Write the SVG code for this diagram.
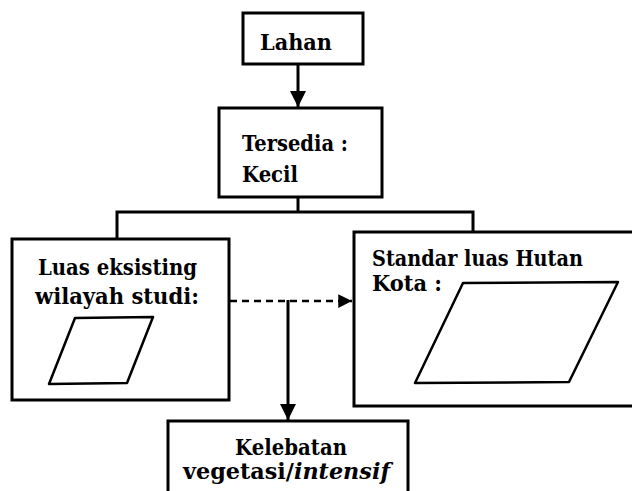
<svg xmlns="http://www.w3.org/2000/svg" width="632" height="491" viewBox="0 0 632 491">
<style>
.box{fill:#fff;stroke:#000;stroke-width:3}
.para{fill:#fff;stroke:#000;stroke-width:2.5;stroke-linejoin:round}
.t{font-family:'DejaVu Serif','Liberation Serif',serif;font-weight:bold;font-size:23px;fill:#000}
.ln{fill:none;stroke:#000;stroke-width:3}
.dash{fill:none;stroke:#000;stroke-width:2.5;stroke-dasharray:7,5}
</style>
<defs>
<marker id="ah" viewBox="0 0 10 10" refX="10" refY="5" markerWidth="5.5" markerHeight="5.5" orient="auto" markerUnits="strokeWidth">
<path d="M0,0 L10,5 L0,10 z" fill="#000"/>
</marker>
<marker id="ah2" viewBox="0 0 10 10" refX="10" refY="5" markerWidth="5.5" markerHeight="5.5" orient="auto" markerUnits="strokeWidth">
<path d="M0,0 L10,5 L0,10 z" fill="#000"/>
</marker>
</defs>
<g id="connectors">
<line class="ln" x1="298" y1="64" x2="298" y2="107" marker-end="url(#ah)"/>
<polyline class="ln" points="298,197 298,212"/>
<polyline class="ln" points="117,239 117,212 473,212 473,232"/>
<line class="dash" x1="230" y1="301" x2="352" y2="301" marker-end="url(#ah2)"/>
<line class="ln" x1="288" y1="300" x2="288" y2="420" marker-end="url(#ah)"/>
</g>
<g id="lahan">
<rect class="box" x="243" y="13" width="120" height="51"/>
<text class="t" x="296" y="50" text-anchor="middle" textLength="72" lengthAdjust="spacingAndGlyphs">Lahan</text>
</g>
<g id="tersedia">
<rect class="box" x="219" y="108" width="163" height="89"/>
<text class="t" x="242" y="151" textLength="106" lengthAdjust="spacingAndGlyphs">Tersedia :</text>
<text class="t" x="242" y="182" textLength="56" lengthAdjust="spacingAndGlyphs">Kecil</text>
</g>
<g id="luas-eksisting">
<rect class="box" x="12" y="239" width="217" height="161"/>
<text class="t" x="38" y="275" textLength="159" lengthAdjust="spacingAndGlyphs">Luas eksisting</text>
<text class="t" x="35" y="304" textLength="164" lengthAdjust="spacingAndGlyphs">wilayah studi:</text>
<polygon class="para" points="75,318 153,317 127,383 49,384"/>
</g>
<g id="standar">
<rect class="box" x="354" y="232" width="290" height="174"/>
<text class="t" x="372" y="266" textLength="211" lengthAdjust="spacingAndGlyphs">Standar luas Hutan</text>
<text class="t" x="372" y="291" textLength="70" lengthAdjust="spacingAndGlyphs">Kota :</text>
<polygon class="para" points="463,283 618,282 569,382 415,383"/>
</g>
<g id="kelebatan">
<rect class="box" x="168" y="421" width="240" height="90"/>
<text class="t" x="235" y="455" textLength="112" lengthAdjust="spacingAndGlyphs">Kelebatan</text>
<text class="t" x="183" y="479" textLength="207" lengthAdjust="spacingAndGlyphs">vegetasi/<tspan font-style="italic">intensif</tspan></text>
</g>
</svg>
